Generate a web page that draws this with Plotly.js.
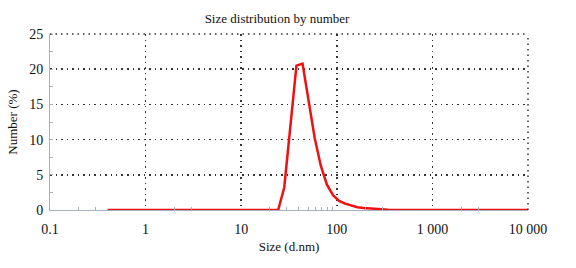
<!DOCTYPE html>
<html><head><meta charset="utf-8">
<script src="https://cdn.plot.ly/plotly-3.0.1.min.js"></script>
<style>html,body{margin:0;padding:0;background:#fff;}#chart{width:576px;height:268px;}</style>
</head><body><div id="chart"></div>
<script>
const sizes = [0.4, 0.4632, 0.5365, 0.6213, 0.7195, 0.8332, 0.9649, 1.117, 1.294, 1.499, 1.736, 2.01, 2.328, 2.696, 3.122, 3.615, 4.187, 4.849, 5.615, 6.503, 7.531, 8.721, 10.1, 11.7, 13.54, 15.69, 18.17, 21.04, 24.36, 28.21, 32.67, 37.84, 43.82, 50.75, 58.77, 68.06, 78.82, 91.28, 105.7, 122.4, 141.8, 164.2, 190.1, 220.2, 255.0, 295.3, 342.0, 396.1, 458.7, 531.2, 615.1, 712.4, 825.0, 955.4, 1106, 1281, 1484, 1718, 1990, 2305, 2669, 3091, 3580, 4145, 4801, 5560, 6439, 7456, 8635, 10000];
const numberPct = [0,0,0,0,0,0,0,0,0,0,0,0,0,0,0,0,0,0,0,0,0,0,0,0,0,0,0,0, 0, 3.2, 12.0, 20.5, 20.8, 15.5, 10.2, 6.3, 3.6, 2.1, 1.3, 0.9, 0.6, 0.4, 0.3, 0.2, 0.15, 0.1, 0.05, 0.02, 0, 0,0,0,0,0,0,0,0,0,0,0,0,0,0,0,0,0,0,0,0,0];
const xTickVals = [0.1, 1, 10, 100, 1000, 10000];
const xTickText = ["0.1", "1", "10", "100", "1 000", "10 000"];
const yTickVals = [0, 5, 10, 15, 20, 25];

const serif = "Liberation Serif, Times New Roman, serif";
const axisCol = "#a8b0bc";
const gridCol = "#333333";
const dotted = "1.5px,4px";

Plotly.newPlot("chart", [{
  x: sizes, y: numberPct, type: "scatter", mode: "lines",
  line: {color: "#ee1111", width: 2.5}, hoverinfo: "skip"
}], {
  width: 576, height: 268,
  margin: {l: 50, r: 48, t: 34, b: 58},
  paper_bgcolor: "#fff", plot_bgcolor: "#fff",
  showlegend: false,
  font: {family: serif, size: 13, color: "#111"},
  title: {text: "Size distribution by number", font: {family: serif, size: 13, color: "#111"}, xref: "paper", x: 0.475, xanchor: "center", y: 0.93, yanchor: "middle"},
  xaxis: {
    type: "log", range: [-1, 4],
    tickvals: xTickVals, ticktext: xTickText,
    showline: true, linecolor: axisCol, linewidth: 1,
    showgrid: true, gridcolor: gridCol, gridwidth: 1.5, griddash: dotted,
    ticks: "", zeroline: false, ticklabelstandoff: 6,
    minor: {ticks: "inside", ticklen: 3, tickcolor: axisCol, showgrid: false, tickvals: [0.2,0.3,2,3,20,30,40,50,60,70,80,90,200,300,2000,3000]},
    title: {text: "Size (d.nm)", font: {family: serif, size: 13}, standoff: 6},
    tickfont: {family: serif, size: 14}
  },
  yaxis: {
    range: [0, 25], tickvals: yTickVals,
    showline: true, linecolor: axisCol, linewidth: 1,
    showgrid: true, gridcolor: gridCol, gridwidth: 1.5, griddash: dotted,
    ticks: "", zeroline: false, ticklabelstandoff: 3,
    minor: {ticks: "inside", ticklen: 3, tickcolor: axisCol, showgrid: false, dtick: 2.5},
    title: {text: "Number (%)", font: {family: serif, size: 13}, standoff: 8},
    tickfont: {family: serif, size: 14}
  },
  shapes: [
    {type: "line", xref: "paper", yref: "paper", x0: 0, x1: 1, y0: 1, y1: 1, line: {color: gridCol, width: 1.5, dash: dotted}},
    {type: "line", xref: "paper", yref: "paper", x0: 1, x1: 1, y0: 0, y1: 1, line: {color: gridCol, width: 1.5, dash: dotted}}
  ]
}, {staticPlot: true});
</script></body></html>
